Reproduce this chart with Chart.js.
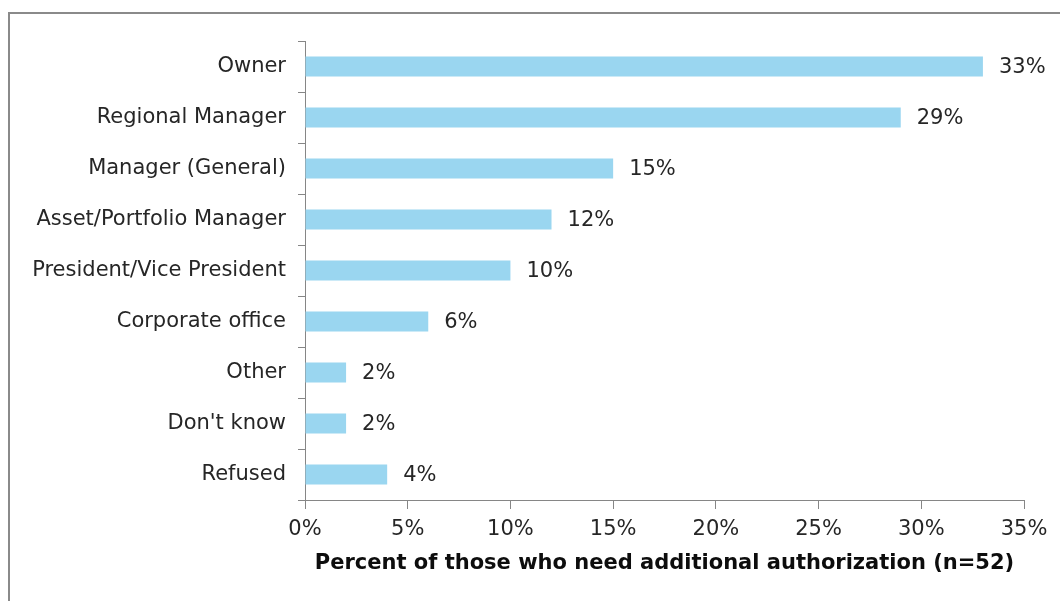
<!DOCTYPE html>
<html>
<head>
<meta charset="utf-8">
<script src="https://cdn.jsdelivr.net/npm/chart.js@4/dist/chart.umd.min.js"></script>
<style>
    html, body { margin: 0; padding: 0; background: #fff; }
    body { width: 1060px; height: 601px; position: relative; overflow: hidden; }
    /* chart frame: only top and left edges fall inside the page */
    .frame {
        position: absolute; left: 8px; top: 12px;
        width: 1200px; height: 800px;
        border-top: 2px solid #8a8a8a; border-left: 2px solid #8a8a8a;
    }
    #chart { position: absolute; left: 0; top: 0; }
</style>
</head>
<body>
<div class="frame"></div>
<canvas id="chart" width="1060" height="601"></canvas>
<script>
// ===== DATA =====
const categories = [
    'Owner',
    'Regional Manager',
    'Manager (General)',
    'Asset/Portfolio Manager',
    'President/Vice President',
    'Corporate office',
    'Other',
    "Don't know",
    'Refused'
];
const percentValues = [33, 29, 15, 12, 10, 6, 2, 2, 4];
const xTicks = [0, 5, 10, 15, 20, 25, 30, 35];
const axisTitle = 'Percent of those who need additional authorization (n=52)';

const FONT = '"DejaVu Sans", Verdana, sans-serif';
const FONT_SIZE = 21;
const TEXT = '#262626';
const AXIS = '#868686';

// ===== VALUE LABELS AT BAR ENDS =====
const valueLabels = {
    id: 'valueLabels',
    afterDatasetsDraw(chart) {
        const ctx = chart.ctx;
        const meta = chart.getDatasetMeta(0);
        ctx.save();
        ctx.font = FONT_SIZE + 'px ' + FONT;
        ctx.fillStyle = TEXT;
        ctx.textAlign = 'left';
        ctx.textBaseline = 'middle';
        meta.data.forEach((bar, i) => {
            ctx.fillText(percentValues[i] + '%', bar.x + 16, bar.y + 1);
        });
        ctx.restore();
    }
};

new Chart(document.getElementById('chart'), {
    type: 'bar',
    data: {
        labels: categories,
        datasets: [{
            data: percentValues,
            backgroundColor: '#9ad6f0',
            borderWidth: 0,
            barPercentage: 0.39,
            categoryPercentage: 1
        }]
    },
    options: {
        indexAxis: 'y',
        responsive: false,
        animation: false,
        events: [],
        layout: { padding: { left: 0, top: 41, right: 36, bottom: 0 } },
        plugins: {
            legend: { display: false },
            tooltip: { enabled: false }
        },
        scales: {
            x: {
                min: 0,
                max: 35,
                afterBuildTicks: (axis) => { axis.ticks = xTicks.map(v => ({ value: v })); },
                afterFit: (axis) => { axis.height = 101; },
                grid: {
                    drawOnChartArea: false,
                    drawTicks: true,
                    tickLength: 9,
                    color: AXIS
                },
                border: { display: true, color: AXIS, width: 1 },
                ticks: {
                    padding: 8,
                    color: TEXT,
                    font: { family: FONT, size: FONT_SIZE },
                    callback: (v) => v + '%'
                },
                title: {
                    display: true,
                    text: axisTitle,
                    color: '#0d0d0d',
                    font: { family: FONT, size: FONT_SIZE, weight: 'bold' },
                    padding: { top: 4, bottom: 25 }
                }
            },
            y: {
                afterFit: (axis) => { axis.width = 305; },
                grid: {
                    drawOnChartArea: false,
                    drawTicks: true,
                    tickLength: 7,
                    offset: true,
                    color: AXIS
                },
                border: { display: true, color: AXIS, width: 1 },
                ticks: {
                    padding: 12,
                    color: TEXT,
                    font: { family: FONT, size: FONT_SIZE }
                }
            }
        }
    },
    plugins: [valueLabels]
});
</script>
</body>
</html>
